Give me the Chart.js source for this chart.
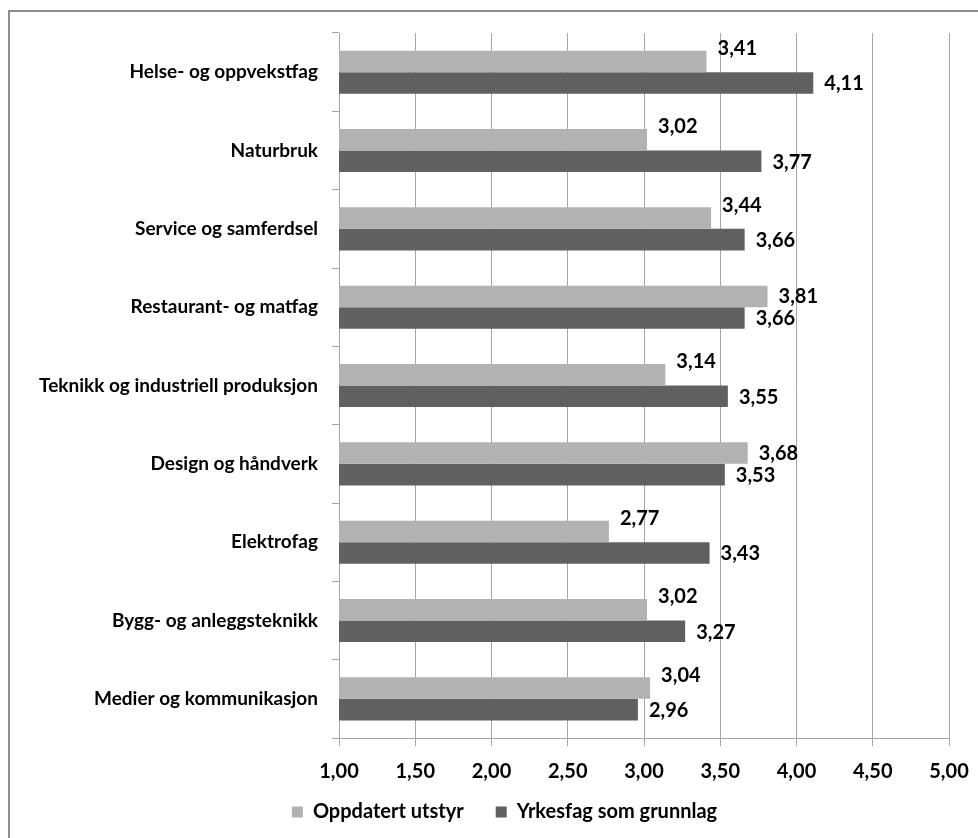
<!DOCTYPE html>
<html>
<head>
<meta charset="utf-8">
<script src="https://cdn.jsdelivr.net/npm/chart.js@4/dist/chart.umd.min.js"></script>
<style>
  html, body { margin: 0; padding: 0; background: #ffffff; }
  #wrap { position: relative; width: 978px; height: 838px; }
</style>
</head>
<body>
<div id="wrap"><canvas id="chart" width="978" height="838"></canvas></div>
<script>
// Programme areas (top to bottom)
const categories = [
  'Helse- og oppvekstfag',
  'Naturbruk',
  'Service og samferdsel',
  'Restaurant- og matfag',
  'Teknikk og industriell produksjon',
  'Design og håndverk',
  'Elektrofag',
  'Bygg- og anleggsteknikk',
  'Medier og kommunikasjon'
];

// Series names
const seriesNames = ['Oppdatert utstyr', 'Yrkesfag som grunnlag'];

// Average scores per programme area
const oppdatertUtstyr = [3.41, 3.02, 3.44, 3.81, 3.14, 3.68, 2.77, 3.02, 3.04];
const yrkesfagSomGrunnlag = [4.11, 3.77, 3.66, 3.66, 3.55, 3.53, 3.43, 3.27, 2.96];

// Value axis ticks
const xTickValues = [1.00, 1.50, 2.00, 2.50, 3.00, 3.50, 4.00, 4.50, 5.00];

const FONT_FAMILY = "Lato, 'Open Sans', 'DejaVu Sans', sans-serif";
const LIGHT = '#b2b2b2';
const DARK = '#606060';
const LINE = '#a6a6a6';

// Norwegian number format: 3,41
const fmt = v => v.toFixed(2).replace('.', ',');

// Frame around the figure (top and left edge)
const framePlugin = {
  id: 'frame',
  beforeDraw(chart) {
    const ctx = chart.ctx;
    ctx.save();
    ctx.fillStyle = '#ffffff';
    ctx.fillRect(0, 0, chart.width, chart.height);
    ctx.strokeStyle = '#8e8e8e';
    ctx.lineWidth = 2;
    ctx.beginPath();
    ctx.moveTo(9, chart.height);
    ctx.lineTo(9, 11);
    ctx.lineTo(chart.width, 11);
    ctx.stroke();
    ctx.restore();
  }
};

// Place the legend row centred under the value axis
const legendPlacePlugin = {
  id: 'legendPlace',
  afterLayout(chart) {
    const lg = chart.legend;
    if (!lg) return;
    const dx = 30;
    lg.left += dx;
    lg.right += dx;
    lg.top = 770;
    lg.bottom = chart.height;
    lg.height = lg.bottom - lg.top;
  }
};

// Value labels at the end of each bar
const valueLabelPlugin = {
  id: 'valueLabels',
  afterDatasetsDraw(chart) {
    const ctx = chart.ctx;
    ctx.save();
    ctx.font = 'bold 20px ' + FONT_FAMILY;
    ctx.fillStyle = '#000000';
    ctx.textAlign = 'left';
    ctx.textBaseline = 'middle';
    const lightMeta = chart.getDatasetMeta(0);
    const darkMeta = chart.getDatasetMeta(1);
    lightMeta.data.forEach((bar, i) => {
      const v = chart.data.datasets[0].data[i];
      const other = chart.data.datasets[1].data[i];
      // lift the label when it would crowd the label of the bar below
      const lift = (v < other + 0.1) ? -13 : 0;
      ctx.fillText(fmt(v), bar.x + 11, bar.y + lift);
    });
    darkMeta.data.forEach((bar, i) => {
      const v = chart.data.datasets[1].data[i];
      ctx.fillText(fmt(v), bar.x + 11, bar.y + 1);
    });
    ctx.restore();
  }
};

const numberFont = { family: FONT_FAMILY, size: 20, weight: 'bold' };
const categoryFont = { family: FONT_FAMILY, size: 19, weight: 'bold' };

new Chart(document.getElementById('chart'), {
  type: 'bar',
  data: {
    labels: categories,
    datasets: [
      {
        label: seriesNames[0],
        data: oppdatertUtstyr,
        backgroundColor: LIGHT,
        borderWidth: 0,
        categoryPercentage: 0.55,
        barPercentage: 1.0
      },
      {
        label: seriesNames[1],
        data: yrkesfagSomGrunnlag,
        backgroundColor: DARK,
        borderWidth: 0,
        categoryPercentage: 0.55,
        barPercentage: 1.0
      }
    ]
  },
  options: {
    indexAxis: 'y',
    responsive: false,
    animation: false,
    devicePixelRatio: 1,
    layout: { padding: { left: 0, right: 29, top: 33, bottom: 10 } },
    scales: {
      x: {
        type: 'linear',
        min: 1,
        max: 5,
        afterBuildTicks(scale) {
          scale.ticks = xTickValues.map(v => ({ value: v }));
        },
        afterFit(scale) {
          scale.height = 50;
          scale.paddingLeft = 0;
          scale.paddingRight = 0;
        },
        ticks: {
          callback: v => fmt(v),
          font: numberFont,
          color: '#000000',
          padding: 14,
          maxRotation: 0,
          autoSkip: false
        },
        grid: { color: LINE, lineWidth: 1, tickLength: 8, drawTicks: true },
        border: { color: LINE, width: 1 }
      },
      y: {
        afterFit(scale) { scale.width = 339; },
        ticks: {
          font: categoryFont,
          color: '#000000',
          padding: 14,
          autoSkip: false
        },
        grid: { drawOnChartArea: false, offset: true, tickLength: 7, color: LINE },
        border: { color: LINE, width: 1 }
      }
    },
    plugins: {
      legend: {
        position: 'bottom',
        maxHeight: 40,
        labels: {
          boxWidth: 11,
          boxHeight: 11,
          padding: 32,
          color: '#000000',
          font: numberFont
        }
      },
      tooltip: { enabled: false }
    }
  },
  plugins: [framePlugin, legendPlacePlugin, valueLabelPlugin]
});
</script>
</body>
</html>
